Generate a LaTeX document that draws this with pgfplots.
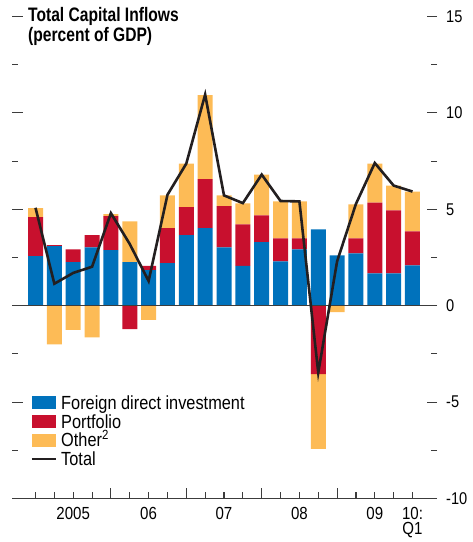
\documentclass[border=0pt]{standalone}
\usepackage{pgfplots}
\usepackage{pgfplotstable}
\pgfplotsset{compat=1.18}
\usepackage{fontspec}
\setmainfont{Liberation Sans}[FakeStretch=0.86]
\newfontfamily\titlefont{Liberation Sans}[FakeStretch=0.8]
\definecolor{fdi}{RGB}{0,114,188}
\definecolor{port}{RGB}{200,16,46}
\definecolor{oth}{RGB}{253,187,86}
\definecolor{linecol}{RGB}{35,31,32}
\definecolor{axcol}{RGB}{60,60,60}

\pgfplotstableread{
i b rp op rn on t
0 2.57 2.02 0.47 0 0 5.08
1 3.09 0.05 0 0 -2.00 1.14
2 2.26 0.66 0 0 -1.26 1.70
3 3.02 0.64 0 0 -1.64 2.02
4 2.88 1.77 0.10 0 0 4.80
5 2.26 0 2.11 -1.21 0 3.20
6 1.85 0.21 0 0 -0.74 1.28
7 2.21 1.81 1.70 0 0 5.75
8 3.66 1.45 2.26 0 0 7.37
9 4.02 2.54 4.36 0 0 10.95
10 3.02 2.14 0.56 0 0 5.72
11 2.06 2.16 1.09 0 0 5.32
12 3.30 1.38 2.12 0 0 6.80
13 2.30 1.19 1.92 0 0 5.43
14 2.92 0.57 1.92 0 0 5.41
15 3.96 0 0 -3.55 -3.88 -3.47
16 2.61 0 0 0 -0.33 2.30
17 2.71 0.78 1.76 0 0 5.28
18 1.68 3.67 2.02 0 0 7.40
19 1.68 3.26 1.29 0 0 6.23
20 2.09 1.76 2.07 0 0 5.92
}\data

\pgfplotsset{
  base/.style={
    at={(12bp,43.5bp)}, anchor=south west,
    scale only axis, width=425bp, height=482bp,
    xmin=-1.247, xmax=21.3, ymin=-10, ymax=15,
    clip=false,
  },
  barleg/.style={legend image code/.code={\fill[##1] (0bp,-6.5bp) rectangle (24bp,6.5bp);}},
  linleg/.style={legend image code/.code={\draw[##1] (0bp,0bp) -- (24bp,0bp);}},
}

\begin{document}
\begin{tikzpicture}
\useasboundingbox (0,0) rectangle (473bp,542bp);

\begin{axis}[base, ybar stacked, bar width=15bp,
  separate axis lines,
  x axis line style={draw=none}, y axis line style={draw=none},
  xtick={4,8,12,16}, xticklabels={}, minor xtick={0,...,20},
  xtick pos=left, xticklabel pos=left,
  extra x ticks={2,6,10,14,18,20},
  extra x tick labels={2005,06,07,08,09,{10:\\[-1.5bp]Q1}},
  extra x tick style={major tick style={draw=none}},
  x tick label style={align=center, inner sep=0pt, anchor=north, yshift=-8.5bp,
    font={\fontsize{17.5bp}{17bp}\selectfont}},
  ytick={-10,-5,0,5,10,15}, yticklabels={-10,-5,0,5,10,15},
  minor ytick={-7.5,-2.5,2.5,7.5,12.5},
  ytick pos=both, yticklabel pos=right,
  y tick label style={anchor=west, inner sep=0pt, xshift=9bp,
    font={\fontsize{17bp}{17bp}\selectfont}},
  tick align=inside, major tick length=10.5bp, minor tick length=6bp,
  tick style={axcol, line width=1.1bp},
  legend cell align=left,
  legend style={at={(axis cs:-0.255,-4.70)}, anchor=north west, draw=none, fill=none,
    inner sep=0pt, outer sep=0pt, row sep=5.7bp, column sep=4.3bp,
    font={\fontsize{19bp}{19bp}\selectfont},
    nodes={inner sep=0pt, text height=13bp, text depth=0pt}},
]
\addplot[fill=fdi, draw=none, barleg] table[x=i, y=b] {\data};
\addlegendentry{Foreign direct investment}
\addplot[fill=port, draw=none, barleg] table[x=i, y=rp] {\data};
\addlegendentry{Portfolio}
\addplot[fill=oth, draw=none, barleg] table[x=i, y=op] {\data};
\addlegendentry{Other\textsuperscript{2}}
\addlegendimage{draw=linecol, line width=2.2bp, linleg}
\addlegendentry{Total}
\end{axis}

\begin{axis}[base, hide axis, ybar stacked, bar width=15bp]
\addplot[fill=port, draw=none] table[x=i, y=rn] {\data};
\addplot[fill=oth, draw=none] table[x=i, y=on] {\data};
\end{axis}

\begin{axis}[base, hide axis]
\draw[axcol, line width=1.2bp] (axis cs:-1.247,0) -- (axis cs:21.3,0);
\draw[axcol, line width=1.2bp] (axis cs:-1.247,-10) -- (axis cs:21.3,-10);
\addplot[linecol, line width=2.6bp, mark=none] table[x=i, y=t] {\data};
\end{axis}

\node[anchor=base west, inner sep=0pt, font={\titlefont\bfseries\fontsize{19.5bp}{20bp}\selectfont}] at (28bp,520.7bp) {Total Capital Inflows};
\node[anchor=base west, inner sep=0pt, font={\titlefont\bfseries\fontsize{19.5bp}{20bp}\selectfont}] at (28bp,500.7bp) {(percent of GDP)};
\end{tikzpicture}
\end{document}
